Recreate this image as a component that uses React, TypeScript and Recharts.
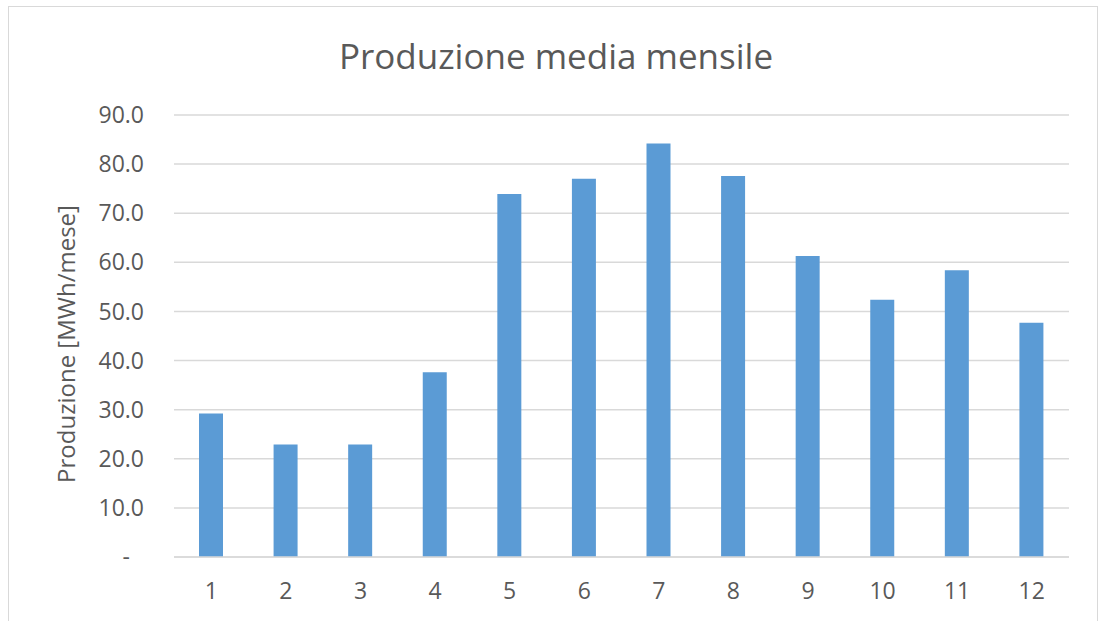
import React from 'react';
import { BarChart, Bar, XAxis, YAxis, CartesianGrid } from 'recharts';

// Monthly average production (MWh/month)
const months = ['1', '2', '3', '4', '5', '6', '7', '8', '9', '10', '11', '12'];
const production = [29.2, 22.9, 22.9, 37.6, 73.9, 77.0, 84.2, 77.6, 61.3, 52.4, 58.4, 47.7];
const yTicks = [0, 10, 20, 30, 40, 50, 60, 70, 80, 90];

const titleText = 'Produzione media mensile';
const yAxisTitle = 'Produzione [MWh/mese]';

const data = months.map((m, i) => ({ month: m, value: production[i] }));

const FONT = '"Open Sans", "Noto Sans", sans-serif';
const TEXT = '#595959';
const GRID = '#D9D9D9';
const BAR = '#5B9BD5';

// Accounting-style label: zero is shown as a dash set in from the right edge
const YTick = (props: any) => {
  const { x, y, payload } = props;
  const v = payload.value as number;
  const isZero = v === 0;
  return (
    <text
      x={isZero ? x - 14 : x}
      y={y}
      dy="0.355em"
      textAnchor="end"
      fill={TEXT}
      fontFamily={FONT}
      fontSize={23}
    >
      {isZero ? '-' : v.toFixed(1)}
    </text>
  );
};

export default function App() {
  return (
    <div style={{ position: 'absolute', left: 0, top: 0, width: 1100, height: 621, background: '#fff', overflow: 'hidden' }}>
      <div
        style={{
          position: 'absolute',
          left: 8,
          top: 6,
          width: 1090,
          height: 640,
          borderTop: `1.5px solid ${GRID}`,
          borderLeft: `1.5px solid ${GRID}`,
          borderRight: `1.5px solid ${GRID}`,
          boxSizing: 'border-box',
        }}
      />
      <div style={{ position: 'absolute', left: 0, top: 0 }}>
        <BarChart
          width={1100}
          height={621}
          data={data}
          margin={{ top: 115, right: 31, bottom: 24, left: 0 }}
          barSize={24}
        >
          <CartesianGrid vertical={false} stroke={GRID} strokeWidth={1.5} />
          <XAxis
            dataKey="month"
            height={40}
            axisLine={{ stroke: GRID, strokeWidth: 1.5 }}
            tickLine={false}
            tickSize={0}
            tickMargin={26}
            tick={{ fill: TEXT, fontFamily: FONT, fontSize: 23 }}
          />
          <YAxis
            width={174}
            domain={[0, 90]}
            ticks={yTicks}
            axisLine={false}
            tickLine={false}
            tickSize={0}
            tickMargin={30}
            tick={<YTick />}
          />
          <Bar dataKey="value" fill={BAR} isAnimationActive={false} />
        </BarChart>
      </div>
      <svg
        width={1100}
        height={621}
        style={{ position: 'absolute', left: 0, top: 0, pointerEvents: 'none' }}
      >
        <text x={556} y={69} textAnchor="middle" fill={TEXT} fontFamily={FONT} fontSize={35}>
          {titleText}
        </text>
        <text
          transform="translate(75, 344) rotate(-90)"
          textAnchor="middle"
          fill={TEXT}
          fontFamily={FONT}
          fontSize={24}
        >
          {yAxisTitle}
        </text>
      </svg>
    </div>
  );
}
